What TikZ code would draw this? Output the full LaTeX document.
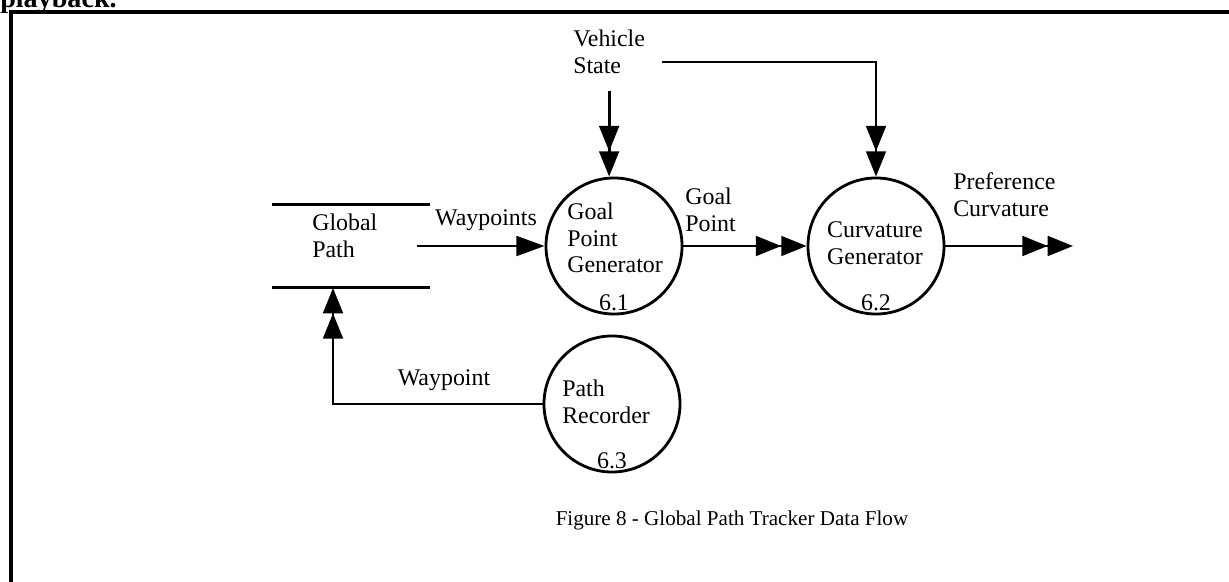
\documentclass[tikz,border=0pt]{standalone}
\usepackage{fontspec}
\setmainfont{Liberation Serif}
\usetikzlibrary{arrows.meta}

\tikzset{
  proc/.style={circle,draw,line width=2pt,minimum size=3.4cm,inner sep=0pt},
  lbl/.style={font=\fontsize{17}{19}\selectfont,align=left,inner sep=0pt},
  num/.style={lbl,anchor=south,yshift=3pt},
  flow/.style={line width=2pt,-{Triangle[length=18pt,width=14pt]Triangle[length=18pt,width=14pt]}},
  flowone/.style={line width=2pt,-{Triangle[length=20pt,width=14pt]}}
}

\begin{document}
\begin{tikzpicture}[x=0.025cm,y=-0.025cm]
\useasboundingbox (0,0) rectangle (1229,582);
\clip (0,0) rectangle (1229,582);
%\draw[help lines,step=100] (0,0) grid (1229,582);
\draw[line width=3pt] (1229,12) -- (11,12) -- (11,582);
\node (pb) [anchor=base west,inner sep=0pt,font=\fontsize{20}{24}\selectfont\bfseries] at (0,8) {playback.};

\path (351,246) node(gp) [minimum width=3.93cm,minimum height=2.08cm,inner sep=0pt] {}
(312,236) node(gpt) [lbl,anchor=west] {Global\\Path}
(614,246) node(gpg) [proc,label={[num]south:6.1}] {}
(567,238) node(gpgt) [lbl,anchor=west] {Goal\\Point\\Generator}
(876,246) node(cg) [proc,label={[num]south:6.2}] {}
(875,243) node(cgt) [lbl] {Curvature\\Generator}
(612,404) node(pr) [proc,label={[num]south:6.3}] {}
(562,402) node(prt) [lbl,anchor=west] {Path\\Recorder}
(573,52) node(vs) [lbl,anchor=west] {Vehicle\\State};

\coordinate (pcout) at (1073,246);
\coordinate (wpin) at (333,288);

\draw[line width=2pt] (gp.north west) -- (gp.north east) (gp.south west) -- (gp.south east);

\draw[flowone] (gp.east) ++(-13,0) -- (gpg.west);
\draw[flow,shorten <=12pt] (vs) -- (vs |- gpg.north);
\draw[flow] ([xshift=0.42cm,yshift=-0.25cm]vs.east) -| (cg);
\draw[flow] (gpg) -- (cg);
\draw[flow] (cg) -- (pcout);
\draw[flow] (pr) -| (wpin);

% flow labels
\node (wps) [lbl] at (486,220) {Waypoints};
\node (gpl) [lbl,anchor=west] at (685,210) {Goal\\Point};
\node (pcl) [lbl,anchor=west] at (953,195) {Preference\\Curvature};
\node (wp) [lbl] at (444,380) {Waypoint};

\node (cap) [font=\fontsize{15}{18}\selectfont] at (732,520) {Figure 8 - Global Path Tracker Data Flow};
\end{tikzpicture}
\end{document}
